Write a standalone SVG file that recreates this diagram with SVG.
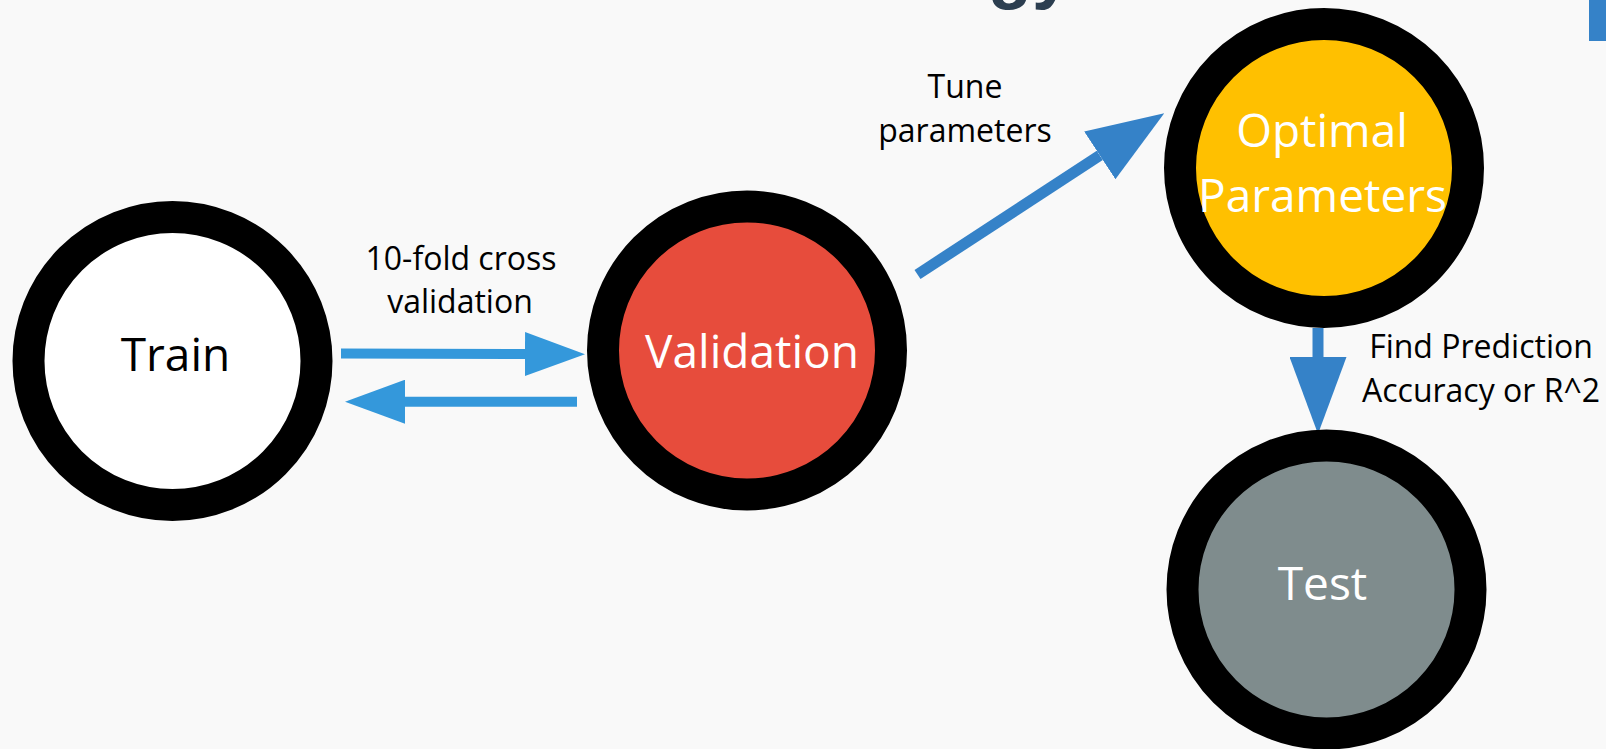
<svg xmlns="http://www.w3.org/2000/svg" width="1606" height="749" viewBox="0 0 1606 749">
  <style>
    .ring { stroke: #000000; stroke-width: 32; }
    .node-label { font-family: "Open Sans", "Liberation Sans", sans-serif; font-size: 46px; text-anchor: middle; }
    .edge-label { font-family: "Open Sans", "Liberation Sans", sans-serif; font-size: 32px; text-anchor: middle; fill: #000000; }
    .shaft-light { stroke: #3498DB; stroke-width: 10; fill: none; }
    .shaft-dark { stroke: #3582C8; stroke-width: 11; fill: none; }
  </style>
  <defs>
    <!-- heads start where the shaft ends -->
    <marker id="head-light" markerUnits="userSpaceOnUse" markerWidth="60" markerHeight="44" refX="0" refY="22" orient="auto" viewBox="0 0 60 44">
      <path d="M0,0 L60,22 L0,44 Z" fill="#3498DB"/>
    </marker>
    <marker id="head-dark" markerUnits="userSpaceOnUse" markerWidth="77" markerHeight="57" refX="0" refY="28.5" orient="auto" viewBox="0 0 77 57">
      <path d="M0,0 L77,28.5 L0,57 Z" fill="#3582C8"/>
    </marker>
  </defs>

  <!-- page background -->
  <rect x="0" y="0" width="1606" height="749" fill="#F9F9F9"/>

  <!-- slide heading, running off the top edge -->
  <text x="988" y="-5" font-family="Liberation Sans, Arial, sans-serif" font-weight="bold" font-size="72" fill="#2C3E50">gy</text>
  <!-- accent bar in the corner -->
  <rect x="1589" y="0" width="17" height="41" fill="#3582C8"/>

  <!-- connectors -->
  <g id="connectors">
    <line class="shaft-light" x1="341" y1="353.5" x2="525" y2="354" marker-end="url(#head-light)"/>
    <line class="shaft-light" x1="577" y1="401.7" x2="405" y2="401.7" marker-end="url(#head-light)"/>
    <line class="shaft-dark" x1="917.5" y1="274.5" x2="1099.8" y2="155.4" marker-end="url(#head-dark)"/>
    <line class="shaft-dark" x1="1318" y1="328" x2="1318" y2="357" marker-end="url(#head-dark)"/>

    <text class="edge-label" x="461" y="270">10-fold cross</text>
    <text class="edge-label" x="460" y="313">validation</text>
    <text class="edge-label" x="965" y="98">Tune</text>
    <text class="edge-label" x="965" y="141.5">parameters</text>
    <text class="edge-label" x="1481" y="358">Find Prediction</text>
    <text class="edge-label" x="1481" y="401.5">Accuracy or R^2</text>
  </g>

  <!-- nodes -->
  <g id="node-train">
    <circle class="ring" cx="172.5" cy="361" r="144" fill="#FFFFFF"/>
    <text class="node-label" x="175.5" y="370.5" fill="#000000">Train</text>
  </g>
  <g id="node-validation">
    <circle class="ring" cx="747" cy="350.5" r="144" fill="#E74C3C"/>
    <text class="node-label" x="752" y="368" fill="#FFFFFF">Validation</text>
  </g>
  <g id="node-optimal">
    <circle class="ring" cx="1324" cy="168" r="144" fill="#FFC000"/>
    <text class="node-label" x="1322" y="146.5" fill="#FFFFFF">Optimal</text>
    <text class="node-label" x="1322.5" y="211.5" fill="#FFFFFF">Parameters</text>
  </g>
  <g id="node-test">
    <circle class="ring" cx="1326.5" cy="589.5" r="144" fill="#7F8C8D"/>
    <text class="node-label" x="1322.5" y="600" fill="#FFFFFF">Test</text>
  </g>
</svg>
